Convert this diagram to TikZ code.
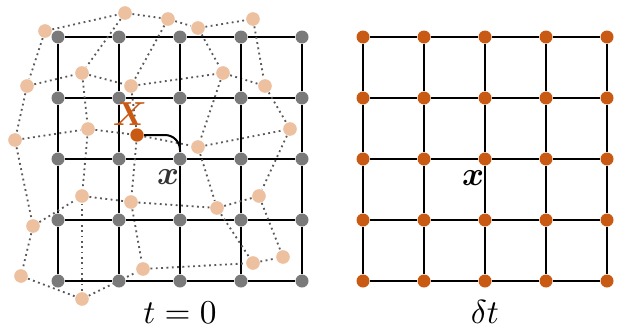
\documentclass[tikz,border=0pt]{standalone}
\usepackage{amsmath,bm}
\usetikzlibrary{backgrounds}
\definecolor{deeporange}{RGB}{200,90,20}
\definecolor{peach}{RGB}{237,192,160}
\definecolor{dotgray}{RGB}{122,122,122}
\tikzset{
  gridpt/.style={circle,fill=dotgray,inner sep=0pt,minimum size=3.9pt},
  warppt/.style={circle,fill=peach,inner sep=0pt,minimum size=4.1pt},
  framept/.style={circle,fill=deeporange,inner sep=0pt,minimum size=3.9pt},
  gridline/.style={line width=0.55pt,black},
  warpline/.style={line width=0.55pt,black!65,dash pattern=on 0.55pt off 1.05pt}
}
\begin{document}
\begin{tikzpicture}[x=0.3pt,y=-0.3pt,font=\normalsize]
    \useasboundingbox (0,0) rectangle (623,331);

    % regular grids, left (t = 0) and right (delta t)
    \foreach \i/\y in {0/37,1/98,2/159,3/220,4/281} {
        \foreach \j/\x in {0/58,1/119,2/180,3/241,4/302} {
            \node[gridpt] (g-\i-\j) at (\x,\y) {};
            \node[framept] (r-\i-\j) at (\x+305,\y) {};
        }
    }

    % deformed points
    \foreach \i/\row in {0/{(45,31),(125,13),(168,19),(198,28),(253,19)},
                         1/{(27,86),(82,73),(131,86),(223,73),(265,86)},
                         2/{(15,140),(88,129),(137,135),(198,147),(290,129)},
                         3/{(33,226),(82,196),(131,202),(217,208),(259,196)},
                         4/{(21,276),(82,299),(143,269),(253,263),(283,257)}} {
        \foreach \p [count=\j from 0] in \row {
            \node[warppt] (p-\i-\j) at \p {};
        }
    }
    \node[framept] (X) at (p-2-2) {};

    \begin{scope}[on background layer]
        \foreach \i in {0,...,4} {
            \foreach \j [count=\k] in {0,...,3} {
                \draw[gridline] (g-\i-\j) -- (g-\i-\k);
                \draw[gridline] (g-\j-\i) -- (g-\k-\i);
                \draw[gridline] (r-\i-\j) -- (r-\i-\k);
                \draw[gridline] (r-\j-\i) -- (r-\k-\i);
                \draw[warpline] (p-\i-\j) -- (p-\i-\k);
                \draw[warpline] (p-\j-\i) -- (p-\k-\i);
            }
        }
    \end{scope}

    \draw[line width=0.6pt,rounded corners=4.5pt] (X) -| (g-2-2);

    \node[text=deeporange] (Xlab) at (130,114) {$\bm{X}$};
    \node[text=black!80] (xlab) at (168,177) {$\bm{x}$};
    \node (xlab2) at (473,178) {$\bm{x}$};
    \node[anchor=base] (tlab) at (180,323) {$t=0$};
    \node[anchor=base] (dtlab) at (485,323) {$\delta t$};
\end{tikzpicture}
\end{document}
